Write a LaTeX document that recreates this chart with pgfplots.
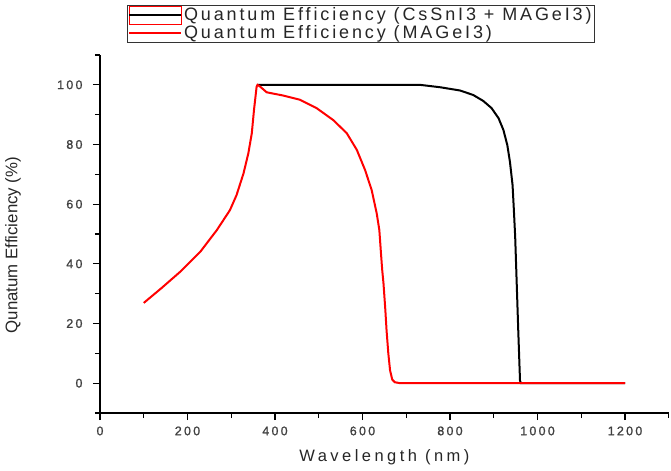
\documentclass[border=0pt]{standalone}
\usepackage{pgfplots}
\pgfplotsset{compat=1.18}
\usepackage{fontspec}
\setmainfont{Liberation Sans}
\newfontfamily\tickfont[LetterSpace=18,FakeBold=1.2]{Liberation Sans}
\newfontfamily\labfont[LetterSpace=21]{Liberation Sans}
\newfontfamily\legfont[LetterSpace=16]{Liberation Sans}
\begin{document}
\begin{tikzpicture}
\path[use as bounding box] (-100bp,-58bp) rectangle (571bp,413bp);
\begin{axis}[
  at={(0,0)}, anchor=south west,
  scale only axis, width=568.75bp, height=358bp,
  xmin=0, xmax=1300, ymin=-10, ymax=110,
  axis lines*=left,
  axis line style={line width=1.3bp, black},
  xtick={0,200,...,1200}, ytick={0,20,...,100},
  minor x tick num=1, minor y tick num=1,
  extra x ticks={1300}, extra x tick labels={},
  extra y ticks={-10,110}, extra y tick labels={},
  extra tick style={major tick length=5bp},
  tick align=outside,
  major tick length=7bp, minor tick length=5bp,
  tick style={line width=1.1bp, black},
  /pgf/number format/assume math mode=true,
  /pgf/number format/1000 sep={},
  ticklabel style={font=\tickfont\fontsize{12.5bp}{14bp}\selectfont, text=black!75},
  xticklabel style={yshift=-3bp},
  yticklabel style={xshift=-7bp},
  xlabel={Wavelength (nm)},
  ylabel={Qunatum Efficiency (\%)},
  xlabel style={at={(axis description cs:0.5,-0.123)}, anchor=center, font=\labfont\fontsize{16.5bp}{18bp}\selectfont, text=black!85},
  ylabel style={at={(axis description cs:-0.153,0.469)}, anchor=center, font=\fontsize{16.8bp}{18bp}\selectfont, text=black!85},
  legend style={at={(axis description cs:0.0475,1.0335)}, anchor=south west,
     draw=black!80, line width=1.1bp, font=\legfont\fontsize{18bp}{20.5bp}\selectfont,
     inner sep=0.5bp, row sep=-1bp, legend cell align=left, text=black!85},
  legend image code/.code={\draw[#1] (0bp,0bp) -- (52bp,0bp);},
]
\addplot[black, line width=2bp, forget plot] coordinates {
(360,100) (450,100) (550,100) (650,100) (731,100) (777,99.2) (823,98.1) (853,96.6)
(876,94.6) (895,92.2) (911,88.8) (922,84.9) (931,79.8) (937,74.2) (943,66.4)
(946,58) (949,49.0) (952,35.6) (956,17.7) (960,0.9) (962,0)
(1000,0) (1200,0)
};
\addlegendimage{legend image code/.code={\draw[red, line width=0.8bp] (0bp,-9bp) rectangle (52bp,9bp); \draw[black, line width=2bp] (0bp,0bp) -- (52bp,0bp);}}
\addlegendentry{Quantum Efficiency (CsSnI3 + MAGeI3)}
\addplot[red, line width=2bp] coordinates {
(100,26.9) (140,31.8) (183,37.3) (229,44) (267,51.3) (297,58) (312,63) (328,70.3)
(339,77) (347,83.8) (352,91.6) (358,99.4) (360,100) (366,99.4) (381,97.5) (419,96.4)
(457,95.0) (495,92.2) (533,88.2) (564,83.8) (587,78.2) (606,71.4) (621,64.7)
(632.5,56.9) (638.5,51.3) (642,44) (645,38) (648,33.4) (652,25) (655,17.7) (659,10) (663,4.3)
(668,1.2) (674,0.3) (686,0) (800,0) (1000,0) (1200,0)
};
\addlegendentry{Quantum Efficiency (MAGeI3)}
\end{axis}
\end{tikzpicture}
\end{document}
